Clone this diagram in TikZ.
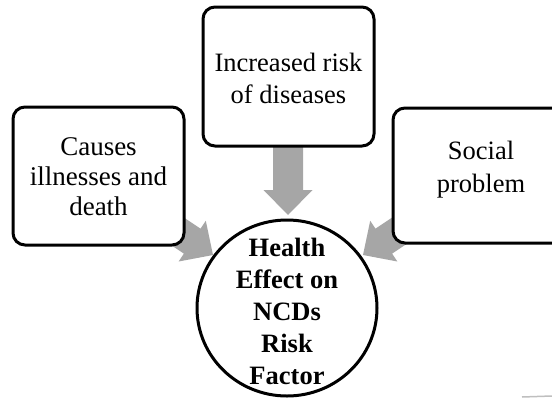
\documentclass[tikz,border=0pt]{standalone}
\usepackage{fontspec}
\setmainfont{Liberation Serif}
\begin{document}
\begin{tikzpicture}[x=1pt,y=-1pt,
  box/.style={draw=black, line width=3pt, rounded corners=12pt, fill=white},
  label/.style={align=center, inner sep=0pt},
  blockarrow/.pic={
    \fill[arrowgray] (-70,-15) -- (-25,-15) -- (-25,-24.5) -- (0,0)
      -- (-25,24.5) -- (-25,15) -- (-70,15) -- cycle;
  }]
  \definecolor{arrowgray}{RGB}{166,166,166}
  \useasboundingbox (0,0) rectangle (552,400);
  \clip (0,0) rectangle (552,400);

  % arrow tips, just touching the central circle
  \coordinate (tipTop) at (288,215);
  \coordinate (tipLeft) at (213,255);
  \coordinate (tipRight) at (363,255);

  % grey block arrows, drawn first so the boxes cover their tails
  \pic[rotate=-90] at (tipTop) {blockarrow};
  \pic[rotate=-33.7] at (tipLeft) {blockarrow};
  \pic[rotate=-146.3] at (tipRight) {blockarrow};

  % the three outer boxes
  \draw[box] (203,7) rectangle (374,146);
  \node[label, font=\fontsize{26.5}{32}\selectfont] (risk) at (288.5,78)
    {Increased risk\\of diseases};
  \draw[box] (13,107) rectangle (184,245);
  \node[label, font=\fontsize{27}{30}\selectfont] (ill) at (98.5,177)
    {Causes\\illnesses and\\death};
  \draw[box] (393,108) rectangle (569,243);
  \node[label, font=\fontsize{26.5}{33}\selectfont] (social) at (481,170)
    {Social\\problem};

  % central circle
  \draw[line width=3pt, fill=white] (287,308) ellipse [x radius=90, y radius=88];
  \node[label, font=\bfseries\fontsize{26.5}{32}\selectfont] (hub) at (287,311)
    {Health\\Effect on\\NCDs\\Risk\\Factor};

  % faint stroke in the lower right corner
  \draw[line width=1.5pt, gray!50] (522,397) -- (552,396);
\end{tikzpicture}
\end{document}
